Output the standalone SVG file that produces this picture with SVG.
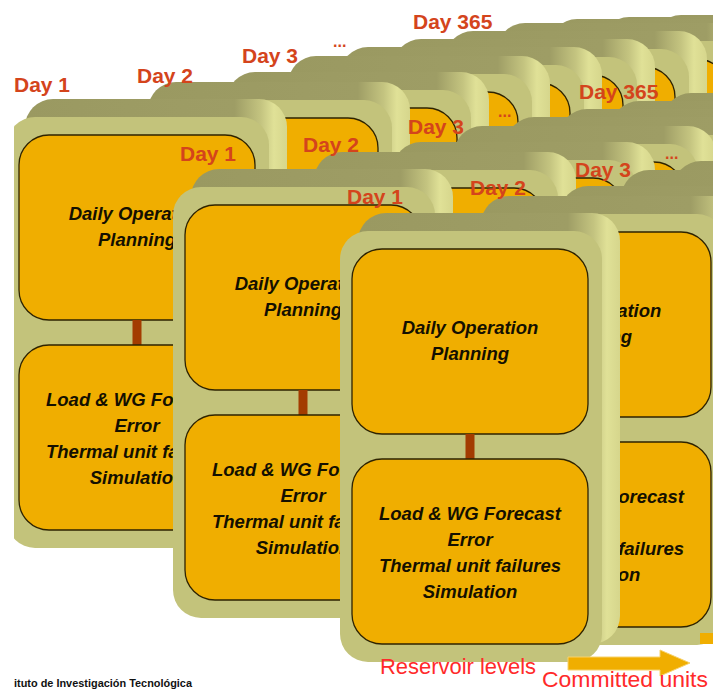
<svg xmlns="http://www.w3.org/2000/svg" xmlns:xlink="http://www.w3.org/1999/xlink" width="713" height="691" viewBox="0 0 713 691">
<style>
.face{fill:#c3c37b}
.ext{fill:url(#gExt)}
.box{fill:#f0ae00;stroke:#2e2300;stroke-width:1.3}
.link{fill:#a33c00}
.t{font-family:"Liberation Sans",Arial,sans-serif;font-weight:bold;font-style:italic;font-size:18.5px;fill:#141000;text-anchor:middle}
.day{font-family:"Liberation Sans",Arial,sans-serif;font-weight:bold;font-size:21px;fill:#d4441c}
.dots{font-family:"Liberation Sans",Arial,sans-serif;font-weight:bold;font-size:16px;fill:#d4441c}
.red{font-family:"Liberation Sans",Arial,sans-serif;font-size:22px;fill:#ff2a2a}
</style>
<defs>
<linearGradient id="gExt" x1="0" y1="0" x2="1" y2="0">
<stop offset="0" stop-color="#9a9961"/>
<stop offset="0.8" stop-color="#9e9d65"/>
<stop offset="0.9" stop-color="#c4c480"/>
<stop offset="0.95" stop-color="#e0e197"/>
<stop offset="1" stop-color="#d6d68c"/>
</linearGradient>
<g id="card">
<rect class="ext" x="6" y="-36" width="262" height="431" rx="28"/>
<rect class="face" x="-12" y="-18" width="262" height="431" rx="28"/>
<rect class="box" x="0" y="0" width="236" height="185" rx="30"/>
<rect class="link" x="113.5" y="185" width="9" height="25"/>
<rect class="box" x="0" y="210" width="236" height="185" rx="30"/>
</g>
<g id="txt">
<text class="t" x="118" y="85">Daily Operation</text>
<text class="t" x="118" y="111">Planning</text>
<text class="t" x="118" y="271">Load &amp; WG Forecast</text>
<text class="t" x="118" y="297">Error</text>
<text class="t" x="118" y="323">Thermal unit failures</text>
<text class="t" x="118" y="349">Simulation</text>
</g>
</defs>
<rect width="713" height="691" fill="#ffffff"/>

<g id="layer-back">
<use xlink:href="#card" x="699" y="51"/>
<use xlink:href="#card" x="647" y="51"/>
<use xlink:href="#card" x="595" y="53"/>
<use xlink:href="#card" x="543" y="55"/>
<use xlink:href="#card" x="491" y="59"/>
<use xlink:href="#card" x="439" y="67"/>
<use xlink:href="#card" x="387" y="75"/>
<use xlink:href="#card" x="334" y="83"/>
<use xlink:href="#card" x="282" y="92"/>
<use xlink:href="#card" x="221" y="108"/>
<use xlink:href="#card" x="142" y="118"/>
<g id="back-day1">
<use xlink:href="#card" x="19" y="135"/>
<use xlink:href="#txt" x="19" y="135"/>
</g>
<g id="back-labels">
<text class="day" x="14" y="92">Day 1</text>
<text class="day" x="137" y="83">Day 2</text>
<text class="day" x="242" y="63">Day 3</text>
<text class="dots" x="333" y="47">...</text>
<text class="day" x="413" y="29">Day 365</text>
</g>
</g>

<g id="layer-middle">
<use xlink:href="#card" x="709" y="125"/>
<use xlink:href="#card" x="657" y="129"/>
<use xlink:href="#card" x="605" y="137"/>
<use xlink:href="#card" x="553" y="145"/>
<use xlink:href="#card" x="500" y="153"/>
<use xlink:href="#card" x="448" y="162"/>
<use xlink:href="#card" x="387" y="178"/>
<use xlink:href="#card" x="308" y="188"/>
<g id="middle-day1">
<use xlink:href="#card" x="185" y="205"/>
<use xlink:href="#txt" x="185" y="205"/>
</g>
<g id="middle-labels">
<text class="day" x="180" y="161">Day 1</text>
<text class="day" x="303" y="152">Day 2</text>
<text class="day" x="408" y="134">Day 3</text>
<text class="dots" x="498" y="117">...</text>
<text class="day" x="579" y="99">Day 365</text>
</g>
</g>

<g id="layer-front">
<use xlink:href="#card" x="720" y="189"/>
<use xlink:href="#card" x="667" y="197"/>
<use xlink:href="#card" x="615" y="206"/>
<use xlink:href="#card" x="554" y="222"/>
<g id="front-day2">
<use xlink:href="#card" x="475" y="232"/>
<use xlink:href="#txt" x="475" y="232"/>
</g>
<g id="front-day1">
<use xlink:href="#card" x="352" y="249"/>
<use xlink:href="#txt" x="352" y="249"/>
</g>
<g id="front-labels">
<text class="day" x="347" y="204">Day 1</text>
<text class="day" x="470" y="195">Day 2</text>
<text class="day" x="575" y="177">Day 3</text>
<text class="dots" x="665" y="159">...</text>
</g>
</g>

<rect x="0" y="0" width="14" height="691" fill="#ffffff"/>

<g id="connectors">
<polygon points="568,657 660,657 660,650 690,663 660,676 660,670 568,670" fill="#f0ae00" stroke="#f7d26a" stroke-width="1"/>
<rect x="700" y="633" width="13" height="11" fill="#f0ae00"/>
</g>

<text class="red" x="380" y="674" textLength="156" lengthAdjust="spacingAndGlyphs">Reservoir levels</text>
<text class="red" x="542" y="687" font-size="21" textLength="166" lengthAdjust="spacingAndGlyphs">Committed units</text>
<text x="14" y="687" font-family="Liberation Sans, Arial, sans-serif" font-weight="bold" font-size="11" fill="#111" textLength="178" lengthAdjust="spacingAndGlyphs">ituto de Investigación Tecnológica</text>
</svg>
